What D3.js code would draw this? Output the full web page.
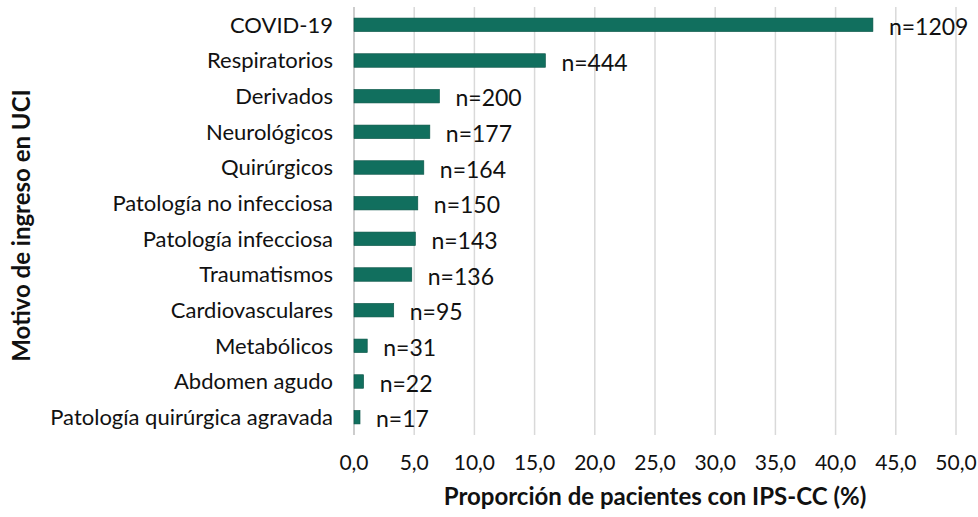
<!DOCTYPE html>
<html>
<head>
<meta charset="utf-8">
<script src="https://cdn.jsdelivr.net/npm/d3@7"></script>
<style>
  body { margin: 0; background: #fff; }
  text { font-family: Lato, "Open Sans", sans-serif; fill: #111; }
</style>
</head>
<body>
<div id="chart"></div>
<script>
const categories = [
    "COVID-19", "Respiratorios", "Derivados", "Neurológicos", "Quirúrgicos",
    "Patología no infecciosa", "Patología infecciosa", "Traumatismos",
    "Cardiovasculares", "Metabólicos", "Abdomen agudo", "Patología quirúrgica agravada"
];
const proportions = [43.1, 15.9, 7.1, 6.3, 5.8, 5.3, 5.1, 4.8, 3.3, 1.1, 0.8, 0.5];
const counts = [1209, 444, 200, 177, 164, 150, 143, 136, 95, 31, 22, 17];
const xTicks = [0, 5, 10, 15, 20, 25, 30, 35, 40, 45, 50];

const width = 978, height = 517;
const plotLeft = 354, plotRight = 956, plotTop = 7, plotBottom = 435;

const svg = d3.select('#chart')
    .append('svg')
    .attr('width', width)
    .attr('height', height);

const x = d3.scaleLinear().domain([0, 50]).range([plotLeft, plotRight]);
const y = d3.scaleBand()
    .domain(categories)
    .range([plotTop, plotBottom])
    .paddingInner(0.62)
    .paddingOuter(0.31);

// gridlines
svg.append('g')
    .selectAll('line')
    .data(xTicks)
    .enter()
    .append('line')
    .attr('x1', d => x(d)).attr('x2', d => x(d))
    .attr('y1', plotTop).attr('y2', plotBottom)
    .attr('stroke', d => d === 0 ? '#bdbdbd' : '#d9d9d9')
    .attr('stroke-width', 1.5);

// tick labels
svg.append('g')
    .selectAll('text')
    .data(xTicks)
    .enter()
    .append('text')
    .attr('x', d => x(d))
    .attr('y', 463)
    .attr('dy', '0.35em')
    .attr('text-anchor', 'middle')
    .style('font-size', '21px')
    .text(d => d3.format('.1f')(d).replace('.', ','));

const rows = categories.map((c, i) => ({ name: c, value: proportions[i], n: counts[i] }));

// bars
svg.append('g')
    .selectAll('rect')
    .data(rows)
    .enter()
    .append('rect')
    .attr('x', x(0))
    .attr('y', d => y(d.name))
    .attr('width', d => x(d.value) - x(0))
    .attr('height', y.bandwidth())
    .attr('fill', '#116f5e')
    .attr('stroke', '#0b5446')
    .attr('stroke-width', 0.6);

// n labels
svg.append('g')
    .selectAll('text')
    .data(rows)
    .enter()
    .append('text')
    .attr('x', d => x(d.value) + 16)
    .attr('y', d => y(d.name) + y.bandwidth() / 2 + 2)
    .attr('dy', '0.35em')
    .style('font-size', '23px')
    .text(d => `n=${d.n}`);

// category labels
svg.append('g')
    .selectAll('text')
    .data(rows)
    .enter()
    .append('text')
    .attr('x', 333)
    .attr('y', d => y(d.name) + y.bandwidth() / 2)
    .attr('dy', '0.35em')
    .attr('text-anchor', 'end')
    .style('font-size', '22px')
    .text(d => d.name);

// axis titles
svg.append('text')
    .attr('x', (plotLeft + plotRight) / 2)
    .attr('y', 497)
    .attr('dy', '0.35em')
    .attr('text-anchor', 'middle')
    .style('font-size', '24px')
    .style('font-weight', 'bold')
    .text('Proporción de pacientes con IPS-CC (%)');

svg.append('text')
    .attr('transform', `translate(22,${(83 + 368) / 2}) rotate(-90)`)
    .attr('dy', '0.35em')
    .attr('text-anchor', 'middle')
    .style('font-size', '24px')
    .style('font-weight', 'bold')
    .text('Motivo de ingreso en UCI');
</script>
</body>
</html>
